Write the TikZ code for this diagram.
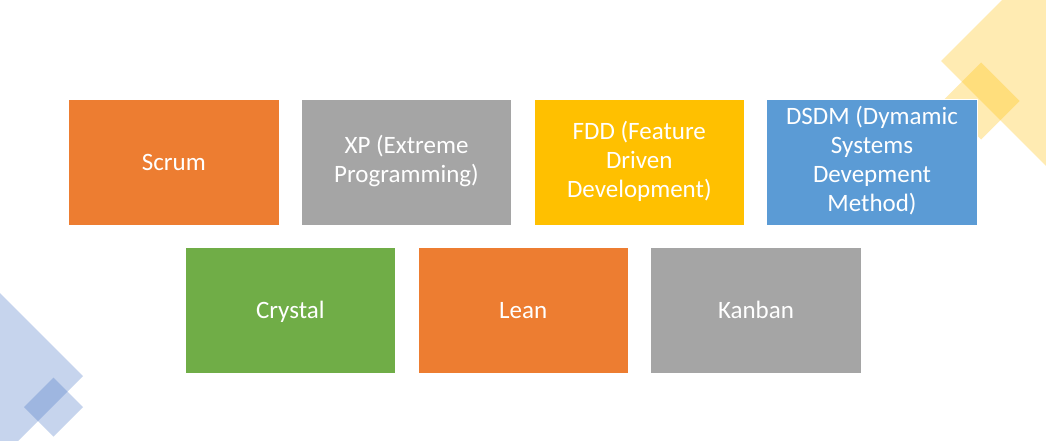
\documentclass[tikz,border=0pt]{standalone}
\usepackage{fontspec}
\setmainfont{Carlito}
\usepackage{tikz}
\usetikzlibrary{
    positioning
}
\definecolor{agileorange}{RGB}{237,125,49}
\definecolor{agilegray}{RGB}{165,165,165}
\definecolor{agilegold}{RGB}{255,192,0}
\definecolor{agileblue}{RGB}{91,155,213}
\definecolor{agilegreen}{RGB}{112,173,71}
\definecolor{decoblue}{RGB}{68,114,196}
\tikzset{
    method/.style={draw=white, line width=0.6pt, minimum width=210.5pt, minimum height=125.5pt,
        text=white, align=center, inner sep=2pt, font=\fontsize{25}{29}\selectfont,
        execute at begin node=\rule{0pt}{22pt}, execute at end node=\rule[-7pt]{0pt}{7pt}},
    deco/.style={fill opacity=0.3},
}

\begin{document}
\begin{tikzpicture}[x=1pt, y=-1pt]
    \clip (0,0) rectangle (1046,441);
    \fill[white] (0,0) rectangle (1046,441);

    %% Decoration
    \begin{scope}
        % top right
        \fill[agilegold, deco] (941,61) -- (1091,-89) -- (1241,61) -- (1091,211) -- cycle;
        \fill[agilegold, deco] (942.5,101) -- (981,62.5) -- (1019.5,101) -- (981,139.5) -- cycle;
        % bottom left
        \fill[decoblue, deco] (83,376) -- (-67,226) -- (-217,376) -- (-67,526) -- cycle;
        \fill[decoblue, deco] (24,407) -- (53.5,377.5) -- (83,407) -- (53.5,436.5) -- cycle;
    \end{scope}

    %% Methods, first row
    \node[method, fill=agileorange] (scrum) at (173.8,162.5) {Scrum};
    \node[method, fill=agilegray] (xp) at (406.5,162.5) {XP (Extreme\\Programming)};
    \node[method, fill=agilegold] (fdd) at (639.3,162.5) {FDD (Feature\\Driven\\Development)};
    \node[method, fill=agileblue] (dsdm) at (872,162.5) {DSDM (Dymamic\\Systems\\Devepment\\Method)};

    %% Methods, second row
    \node[method, fill=agilegreen] (crystal) at (290.3,310.5) {Crystal};
    \node[method, fill=agileorange] (lean) at (523.1,310.5) {Lean};
    \node[method, fill=agilegray] (kanban) at (756,310.5) {Kanban};
\end{tikzpicture}
\end{document}
